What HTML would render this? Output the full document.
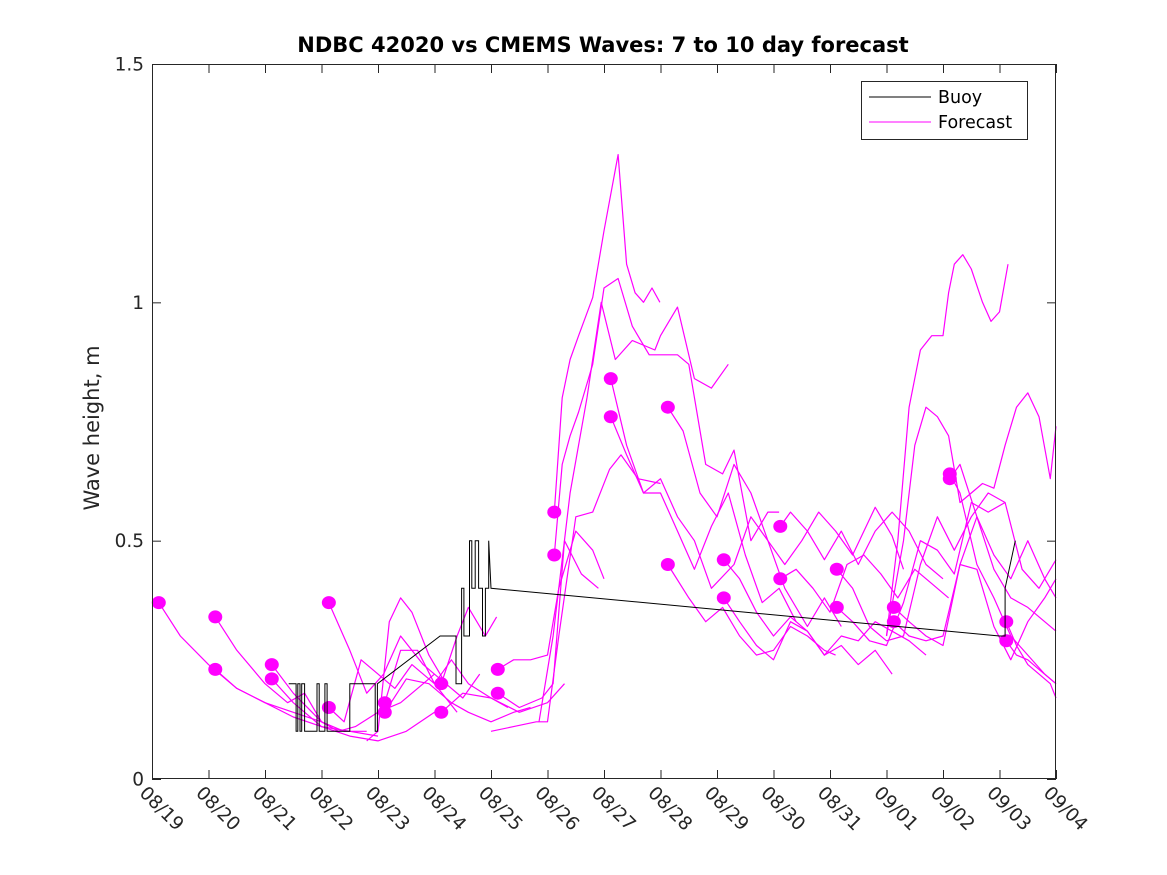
<!DOCTYPE html>
<html><head><meta charset="utf-8"><style>
html,body{margin:0;padding:0;background:#fff;}
svg{display:block;font-family:"DejaVu Sans","Liberation Sans",sans-serif;}
</style></head><body>
<svg id="chart" width="1167" height="875" viewBox="0 0 1167 875" xmlns="http://www.w3.org/2000/svg">
<rect x="0" y="0" width="1167" height="875" fill="#fff"/>
<text x="603" y="52" text-anchor="middle" font-size="21" font-weight="bold" fill="#000">NDBC 42020 vs CMEMS Waves: 7 to 10 day forecast</text>
<text transform="translate(99,428) rotate(-90)" text-anchor="middle" font-size="21" fill="#262626">Wave height, m</text>
<g id="axes"></g>
<g id="series"></g>
<rect x="152.5" y="64.5" width="903" height="714" fill="none" stroke="#262626" stroke-width="1"/>
<g>
<rect x="861.5" y="81.5" width="166" height="58" fill="#fff" stroke="#262626"/>
<line x1="869" y1="97" x2="931" y2="97" stroke="#000"/>
<text x="938" y="103" font-size="17.5" fill="#000">Buoy</text>
<line x1="869" y1="122" x2="931" y2="122" stroke="#ff00ff"/>
<text x="938" y="128" font-size="17.5" fill="#000">Forecast</text>
</g>
</svg>
<script>
const xTickLabels = ["08/19","08/20","08/21","08/22","08/23","08/24","08/25","08/26","08/27","08/28","08/29","08/30","08/31","09/01","09/02","09/03","09/04"];
const yTicks = [0, 0.5, 1, 1.5];
const yTickLabels = ["0","0.5","1","1.5"];
// buoy observations: day offset from 08/19, wave height (m)
const buoyDays = [2.42,2.55,2.55,2.58,2.58,2.62,2.62,2.65,2.65,2.7,2.7,2.92,2.92,2.96,2.96,3.06,3.06,3.1,3.1,3.5,3.5,3.95,3.95,3.99,3.99,5.1,5.38,5.38,5.48,5.48,5.52,5.52,5.62,5.62,5.66,5.66,5.72,5.72,5.78,5.78,5.85,5.85,5.9,5.9,5.96,5.96,6.0,15.0,15.0,15.1,15.1,15.28];
const buoyVals = [0.2,0.2,0.1,0.1,0.2,0.2,0.1,0.1,0.2,0.2,0.1,0.1,0.2,0.2,0.1,0.1,0.2,0.2,0.1,0.1,0.2,0.2,0.1,0.1,0.2,0.3,0.3,0.2,0.2,0.4,0.4,0.3,0.3,0.5,0.5,0.4,0.4,0.5,0.5,0.4,0.4,0.3,0.3,0.4,0.4,0.5,0.4,0.3,0.3,0.3,0.4,0.5];
// forecast runs
const fcDays = [
 [0.12,0.5,1,1.5,2,2.5,3],
 [1.12,1.5,2,2.4,2.7,3,3.4,3.8],
 [1.12,1.5,2,2.5,3,3.5,4],
 [2.12,2.5,3,3.3,3.6,4,4.4,4.7,5],
 [2.12,2.5,3,3.5,4,4.5,5],
 [3.13,3.5,3.8,4.1,4.4,4.8,5.1],
 [3.13,3.4,3.7,4.0,4.3,4.6,5,5.4],
 [4.12,4.4,4.7,5,5.3,5.6,6,6.3],
 [4.12,4.5,4.9,5.3,5.6,6,6.4,6.7],
 [3.8,4.0,4.2,4.4,4.6,4.9,5.2,5.5,5.8],
 [5.12,5.4,5.6,5.9,6.1],
 [5.12,5.5,6,6.5,7,7.3],
 [6.12,6.4,6.7,7,7.2,7.5,7.8,8.0],
 [6.12,6.5,6.9,7.1,7.3,7.6,7.9],
 [6.0,6.4,6.8,7.0,7.2,7.5,7.8,8.1,8.3,8.6,9],
 [7.12,7.26,7.4,7.55,7.8,8.0,8.25,8.4,8.55,8.7,8.85,8.99],
 [7.12,7.26,7.4,7.55,7.8,8.0,8.25,8.5,8.8,9.3,9.5,9.8,10.1,10.3,10.6,10.9,11.1],
 [6.85,7.1,7.4,7.7,7.95,8.2,8.5,8.9,9.0,9.3,9.6,9.9,10.2],
 [8.12,8.4,8.7,9,9.3,9.6,9.9,10.3,10.6,10.9,11.2,11.6,11.9,12.2],
 [8.12,8.4,8.7,9,9.3,9.6,9.9,10.2,10.5,10.8,11.1,11.4],
 [9.13,9.4,9.7,10,10.3,10.6,10.9,11.2,11.5,11.8,12.1,12.4,12.8,13.1,13.3],
 [9.13,9.5,9.8,10.1,10.4,10.7,11,11.3,11.6,11.9,12.1],
 [10.12,10.4,10.7,11,11.3,11.6,11.9,12.2,12.5,12.8,13.1,13.4,13.7],
 [10.12,10.4,10.7,11,11.3,11.6,11.9,12.2,12.5,12.8,13.1],
 [11.12,11.3,11.6,11.9,12.2,12.5,12.8,13.1,13.4,13.7,14.0],
 [11.12,11.4,11.7,12,12.3,12.6,12.9,13.2,13.5,13.8,14.1],
 [12.12,12.4,12.7,13,13.3,13.6,13.9,14.2,14.5,14.8,15.1,15.4,15.7,16],
 [12.12,12.4,12.7,13,13.3,13.6,13.9,14.2,14.5,14.8,15.1],
 [13.0,13.2,13.4,13.6,13.8,14.0,14.1,14.2,14.35,14.5,14.7,14.85,15.0,15.15],
 [13.0,13.3,13.5,13.7,13.9,14.1,14.3,14.5,14.7,14.9,15.1,15.3,15.5,15.7,15.9,16],
 [13.13,13.4,13.7,14,14.3,14.6,14.9,15.2,15.5,15.8,16],
 [13.13,13.4,13.7,14,14.3,14.6,14.9,15.2,15.5,15.8,16],
 [14.12,14.3,14.6,14.9,15.2,15.5,15.8,16],
 [14.12,14.3,14.6,14.9,15.2,15.5,15.8,16],
 [15.12,15.3,15.5,15.7,15.9,16],
 [15.12,15.3,15.5,15.7,15.9,16]
];
const fcVals = [
 [0.37,0.3,0.24,0.19,0.16,0.14,0.12],
 [0.34,0.27,0.2,0.16,0.18,0.12,0.1,0.1],
 [0.23,0.19,0.16,0.13,0.11,0.1,0.09],
 [0.24,0.18,0.12,0.1,0.11,0.14,0.16,0.19,0.22],
 [0.21,0.16,0.11,0.09,0.08,0.1,0.14],
 [0.37,0.27,0.18,0.22,0.3,0.24,0.21],
 [0.15,0.12,0.25,0.22,0.19,0.24,0.2,0.14],
 [0.16,0.27,0.27,0.2,0.25,0.2,0.17,0.15],
 [0.14,0.21,0.2,0.16,0.14,0.12,0.14,0.15],
 [0.08,0.1,0.33,0.38,0.35,0.26,0.2,0.17,0.22],
 [0.2,0.3,0.36,0.3,0.34],
 [0.14,0.18,0.17,0.14,0.16,0.2],
 [0.23,0.25,0.25,0.26,0.4,0.52,0.48,0.42],
 [0.18,0.15,0.17,0.2,0.5,0.43,0.4],
 [0.1,0.11,0.12,0.12,0.3,0.55,0.56,0.65,0.68,0.63,0.62],
 [0.56,0.8,0.88,0.93,1.01,1.15,1.31,1.08,1.02,1.0,1.03,1.0],
 [0.47,0.66,0.72,0.77,0.87,1.03,1.05,0.95,0.89,0.89,0.87,0.66,0.64,0.69,0.5,0.56,0.56],
 [0.12,0.3,0.6,0.8,1.0,0.88,0.92,0.9,0.93,0.99,0.84,0.82,0.87],
 [0.84,0.7,0.6,0.63,0.55,0.5,0.4,0.45,0.55,0.5,0.4,0.32,0.38,0.32],
 [0.76,0.68,0.6,0.6,0.52,0.44,0.53,0.6,0.47,0.37,0.4,0.33],
 [0.78,0.73,0.6,0.55,0.66,0.6,0.5,0.45,0.5,0.56,0.52,0.47,0.57,0.51,0.44],
 [0.45,0.38,0.33,0.36,0.3,0.26,0.27,0.32,0.3,0.27,0.26],
 [0.46,0.42,0.35,0.3,0.34,0.31,0.26,0.3,0.29,0.33,0.31,0.29,0.26],
 [0.38,0.33,0.28,0.25,0.33,0.31,0.26,0.28,0.24,0.27,0.22],
 [0.53,0.56,0.52,0.46,0.52,0.45,0.52,0.56,0.52,0.45,0.42],
 [0.42,0.44,0.4,0.35,0.45,0.47,0.43,0.38,0.44,0.41,0.38],
 [0.44,0.4,0.32,0.29,0.3,0.45,0.55,0.48,0.55,0.6,0.58,0.44,0.4,0.46],
 [0.36,0.33,0.29,0.28,0.37,0.5,0.48,0.43,0.58,0.56,0.58],
 [0.3,0.5,0.78,0.9,0.93,0.93,1.02,1.08,1.1,1.07,1.0,0.96,0.98,1.08],
 [0.3,0.5,0.7,0.78,0.76,0.72,0.58,0.6,0.62,0.61,0.7,0.78,0.81,0.76,0.63,0.74],
 [0.36,0.33,0.3,0.28,0.45,0.55,0.47,0.42,0.5,0.42,0.38],
 [0.33,0.3,0.29,0.3,0.45,0.44,0.32,0.25,0.33,0.38,0.42],
 [0.64,0.6,0.45,0.38,0.3,0.26,0.22,0.2],
 [0.63,0.66,0.55,0.44,0.38,0.36,0.33,0.31],
 [0.33,0.28,0.24,0.22,0.2,0.17],
 [0.29,0.26,0.25,0.23,0.21,0.2]
];
// filled markers at forecast initialization
const dotDays = [0.12,1.12,1.12,2.12,2.12,3.13,3.13,4.12,4.12,5.12,5.12,6.12,6.12,7.12,7.12,8.12,8.12,9.13,9.13,10.12,10.12,11.12,11.12,12.12,12.12,13.13,13.13,14.12,14.12,15.12,15.12];
const dotVals = [0.37,0.34,0.23,0.24,0.21,0.37,0.15,0.16,0.14,0.2,0.14,0.23,0.18,0.56,0.47,0.84,0.76,0.78,0.45,0.46,0.38,0.53,0.42,0.44,0.36,0.36,0.33,0.64,0.63,0.33,0.29];

const X0=152, X1=1056, Y0=779, Y1=64, DMAX=16, VMAX=1.5;
function xs(d){return X0+(X1-X0)*d/DMAX;}
function ys(v){return Y0-(Y0-Y1)*v/VMAX;}
const NS="http://www.w3.org/2000/svg";
const axes=document.getElementById('axes');
const series=document.getElementById('series');
function mk(tag,attrs,parent){const e=document.createElementNS(NS,tag);for(const k in attrs)e.setAttribute(k,attrs[k]);parent.appendChild(e);return e;}

xTickLabels.forEach((lab,i)=>{
  const x=xs(i)+0.5;
  const t1=mk('line',{x1:x,y1:Y0,x2:x,y2:Y0-9,stroke:'#262626'},axes);
  
  
  const t2=mk('line',{x1:x,y1:Y1,x2:x,y2:Y1+9,stroke:'#262626'},axes);
  
  
  const tx=mk('text',{transform:`translate(${x-14},${Y0+15}) rotate(45)`,'font-size':'18.5',fill:'#262626'},axes);
  tx.textContent=lab;
  
  
});
yTicks.forEach((v,i)=>{
  const y=ys(v)+0.5;
  const a=mk('line',{x1:X0,y1:y,x2:X0+9,y2:y,stroke:'#262626'},axes);
  
  
  const b=mk('line',{x1:X1,y1:y,x2:X1-9,y2:y,stroke:'#262626'},axes);
  
  
  const t=mk('text',{x:X0-8,y:y+6,'text-anchor':'end','font-size':'18.5',fill:'#262626'},axes);
  t.textContent=yTickLabels[i];
  
  
});

fcDays.forEach((ds,i)=>{
  const pts=ds.map((d,j)=>xs(d).toFixed(1)+','+ys(fcVals[i][j]).toFixed(1)).join(' ');
  const p=mk('polyline',{points:pts,fill:'none',stroke:'#ff00ff','stroke-width':'1.2','stroke-linejoin':'round'},series);
  
  
});
dotDays.forEach((d,i)=>{
  const c=mk('ellipse',{cx:xs(d),cy:ys(dotVals[i]),rx:7,ry:6.5,fill:'#ff00ff'},series);
  
  
});
const bp=buoyDays.map((d,j)=>xs(d).toFixed(1)+','+ys(buoyVals[j]).toFixed(1)).join(' ');
const bl=mk('polyline',{points:bp,fill:'none',stroke:'#000','stroke-width':'1'},series);


</script>
</body></html>
